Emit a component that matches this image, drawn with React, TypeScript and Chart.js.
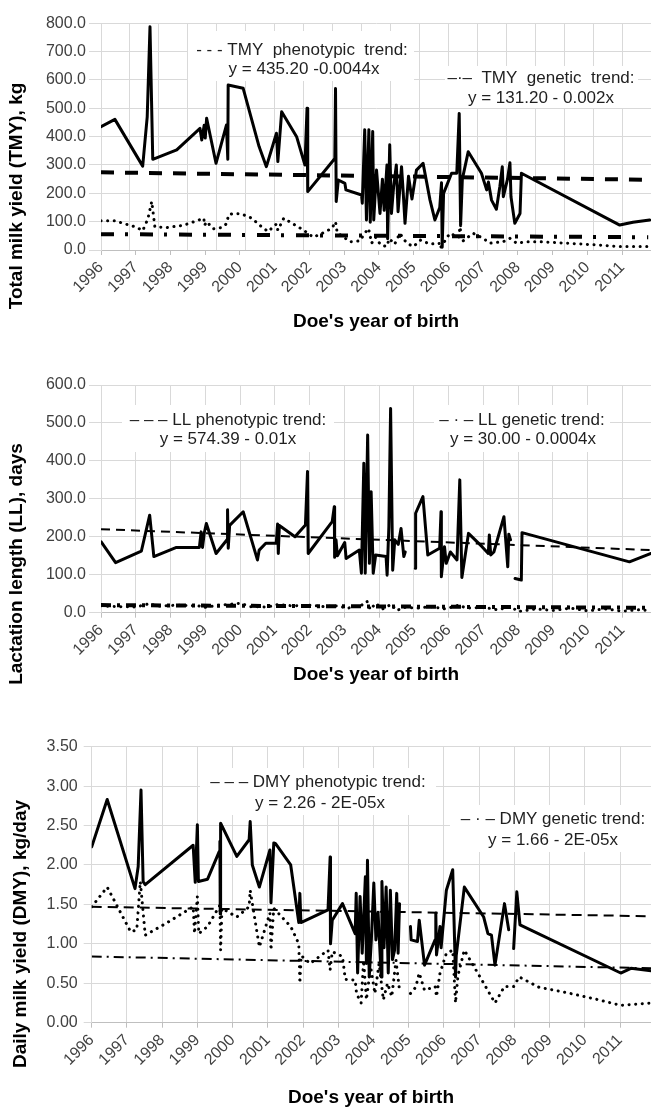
import React, { useEffect, useRef } from "react";
import { Chart, registerables } from "chart.js";
Chart.register(...registerables);

const FONT = '"Liberation Sans", Arial, Helvetica, sans-serif';
const GRID = "#d9d9d9";
const AXIS = "#bfbfbf";
const TICK_TXT = "#404040";

const YEAR_TICKS = [1996, 1997, 1998, 1999, 2000, 2001, 2002, 2003, 2004, 2005, 2006, 2007, 2008, 2009, 2010, 2011];

// ---------- Panel 1: Total milk yield (TMY) ----------
const TMY_Y_TICKS = [0, 100, 200, 300, 400, 500, 600, 700, 800];
const TMY_PHEN_X = [1996.0, 1996.4, 1997.2, 1997.33, 1997.41, 1997.49, 1998.18, 1998.85, 1998.9, 1998.97, 1999.0, 1999.04, 1999.31, 1999.61, 1999.65, 1999.66, 2000.09, 2000.55, 2000.76, 2001.05, 2001.09, 2001.2, 2001.63, 2001.87, 2001.93, 2001.95, 2002.73, 2002.75, 2002.77, 2002.83, 2003.02, 2003.05, 2003.5, 2003.52, 2003.59, 2003.64, 2003.71, 2003.75, 2003.82, 2003.85, 2003.93, 2004.03, 2004.1, 2004.15, 2004.23, 2004.25, 2004.31, 2004.36, 2004.42, 2004.5, 2004.55, 2004.65, 2004.7, 2004.75, 2004.85, 2004.95, 2005.08, 2005.27, 2005.47, 2005.61, 2005.75, 2005.8, 2005.82, 2005.86, 2006.09, 2006.24, 2006.31, 2006.35, 2006.4, 2006.57, 2006.95, 2007.1, 2007.15, 2007.24, 2007.38, 2007.48, 2007.55, 2007.58, 2007.7, 2007.77, 2007.8, 2007.91, 2008.06, 2008.1, 2010.93, 2011.31, 2011.79];
const TMY_PHEN_Y = [435, 461, 296, 470, 788, 320, 353, 429, 388, 440, 395, 465, 306, 441, 320, 582, 571, 365, 294, 412, 312, 488, 400, 300, 500, 206, 323, 570, 171, 247, 235, 212, 194, 165, 424, 106, 424, 98, 418, 106, 282, 129, 250, 140, 300, 40, 371, 129, 220, 300, 135, 294, 200, 94, 260, 180, 282, 306, 176, 106, 150, 237, 10, 200, 271, 271, 482, 86, 250, 347, 271, 212, 240, 176, 144, 224, 294, 188, 250, 308, 188, 94, 129, 271, 88, 98, 106];
const TMY_GEN_X = [1996.0, 1996.4, 1996.64, 1997.03, 1997.2, 1997.35, 1997.46, 1997.55, 1997.87, 1998.37, 1998.75, 1998.96, 1998.98, 1999.04, 1999.23, 1999.5, 1999.62, 1999.67, 1999.81, 2000.05, 2000.34, 2000.62, 2000.81, 2001.05, 2001.09, 2001.26, 2001.53, 2001.82, 2001.94, 2002.11, 2002.4, 2002.65, 2002.75, 2002.8, 2002.97, 2003.16, 2003.45, 2003.59, 2003.7, 2003.79, 2003.9, 2004.05, 2004.22, 2004.3, 2004.45, 2004.6, 2004.8, 2004.99, 2005.2, 2005.47, 2005.73, 2005.76, 2006.04, 2006.3, 2006.33, 2006.4, 2006.71, 2007.0, 2007.19, 2007.57, 2007.77, 2007.96, 2008.25, 2008.63, 2009.4, 2010.26, 2010.93, 2011.79];
const TMY_GEN_Y = [103, 103, 94, 80, 68, 110, 171, 82, 79, 87, 103, 112, 87, 100, 75, 80, 94, 124, 129, 127, 112, 82, 65, 92, 70, 112, 92, 71, 60, 45, 61, 77, 100, 60, 47, 29, 32, 59, 76, 24, 45, 18, 12, 40, 20, 59, 24, 12, 35, 21, 24, 6, 59, 45, 82, 30, 59, 41, 24, 29, 41, 24, 29, 29, 24, 18, 12, 12];
const TMY_TREND_X = [1996.0, 2011.75];
const TMY_PHEN_TREND = [274, 248];
const TMY_GEN_TREND = [56, 45];

// ---------- Panel 2: Lactation length (LL) ----------
const LL_Y_TICKS = [0, 100, 200, 300, 400, 500, 600];
const LL_PHEN_X = [1996.0, 1996.42, 1997.16, 1997.4, 1997.52, 1998.17, 1998.83, 1998.88, 1998.92, 1998.97, 1999.03, 1999.31, 1999.63, 1999.64, 1999.66, 1999.7, 2000.09, 2000.5, 2000.55, 2000.74, 2001.04, 2001.08, 2001.1, 2001.13, 2001.58, 2001.88, 2001.94, 2001.96, 2002.65, 2002.71, 2002.72, 2002.76, 2002.8, 2003.01, 2003.05, 2003.43, 2003.49, 2003.56, 2003.6, 2003.67, 2003.72, 2003.77, 2003.83, 2003.9, 2004.2, 2004.23, 2004.28, 2004.33, 2004.39, 2004.45, 2004.55, 2004.63, 2004.71, 2004.75, 2004.9, 2005.04, 2005.05, 2005.26, 2005.4, 2005.74, 2005.78, 2005.79, 2005.88, 2005.93, 2006.05, 2006.24, 2006.32, 2006.38, 2006.57, 2006.96, 2007.14, 2007.17, 2007.21, 2007.3, 2007.59, 2007.7, 2007.73, 2007.78, 2007.85, 2007.91, 2008.09, 2008.11, 2011.2, 2011.82];
const LL_PHEN_Y = [187, 132, 162, 257, 148, 172, 172, 213, 172, 210, 235, 156, 193, 271, 170, 230, 266, 139, 165, 183, 183, 234, 156, 230, 200, 231, 372, 156, 240, 279, 146, 192, 150, 185, 143, 165, 104, 394, 104, 468, 130, 319, 104, 152, 148, 99, 227, 538, 112, 192, 180, 222, 148, 160, null, 117, 262, 306, 152, 170, 266, 95, 174, 130, 160, 139, 350, 93, 209, 174, 156, 205, 152, 160, 253, 121, 207, 192, null, 90, 86, 211, 134, 156];
const LL_GEN_X = [1996.0, 1996.5, 1997.0, 1997.4, 1997.6, 1998.2, 1998.8, 1999.0, 1999.3, 1999.7, 2000.0, 2000.3, 2000.8, 2001.1, 2001.5, 2002.0, 2002.4, 2002.8, 2003.1, 2003.5, 2003.65, 2003.75, 2003.9, 2004.1, 2004.35, 2004.5, 2004.75, 2005.1, 2005.5, 2005.9, 2006.3, 2006.5, 2007.0, 2007.4, 2007.8, 2008.0, 2008.5, 2009.0, 2009.5, 2010.0, 2010.5, 2011.0, 2011.5, 2011.82];
const LL_GEN_Y = [18, 16, 15, 24, 17, 20, 18, 14, 19, 22, 25, 16, 15, 22, 18, 20, 16, 18, 12, 20, 30, 8, 25, 10, 22, 6, 14, 12, 16, 10, 20, 12, 14, 8, 15, 3, 10, 6, 12, 5, 10, 4, 8, 5];
const LL_TREND_X = [1996.0, 2011.82];
const LL_PHEN_TREND = [220, 165];
const LL_GEN_TREND = [20, 13];

// ---------- Panel 3: Daily milk yield (DMY) ----------
const DMY_Y_TICKS = [0, 0.5, 1.0, 1.5, 2.0, 2.5, 3.0, 3.5];
const DMY_PHEN_X = [1996.0, 1996.44, 1997.23, 1997.32, 1997.4, 1997.46, 1997.52, 1998.88, 1998.94, 1999.0, 1999.03, 1999.29, 1999.62, 1999.64, 1999.65, 1999.66, 2000.12, 2000.47, 2000.5, 2000.56, 2000.76, 2001.06, 2001.09, 2001.17, 2001.22, 2001.65, 2001.88, 2001.91, 2001.94, 2002.71, 2002.77, 2002.78, 2002.83, 2003.12, 2003.48, 2003.51, 2003.55, 2003.62, 2003.68, 2003.77, 2003.8, 2003.83, 2003.88, 2003.94, 2004.01, 2004.07, 2004.13, 2004.22, 2004.24, 2004.3, 2004.36, 2004.42, 2004.48, 2004.54, 2004.6, 2004.66, 2004.7, 2004.74, 2004.9, 2005.05, 2005.07, 2005.25, 2005.3, 2005.45, 2005.75, 2005.77, 2005.79, 2005.89, 2005.92, 2006.07, 2006.25, 2006.33, 2006.35, 2006.58, 2007.13, 2007.25, 2007.35, 2007.45, 2007.72, 2007.84, 2007.9, 2007.98, 2008.07, 2008.16, 2011.02, 2011.31, 2011.88];
const DMY_PHEN_Y = [2.23, 2.83, 1.70, 1.98, 2.95, 1.79, 1.75, 2.25, 1.78, 2.51, 1.79, 1.82, 2.17, 2.30, 1.38, 2.53, 2.11, 2.32, 2.55, 2.00, 1.72, 2.19, 1.52, 2.28, 2.27, 2.00, 1.27, 1.64, 1.27, 1.43, 2.10, 1.00, 1.30, 1.51, 1.13, 1.64, 0.63, 1.60, 0.88, 1.85, 0.75, 2.06, 0.58, 1.05, 1.77, 1.05, 1.40, 0.58, 1.79, 0.95, 1.72, 0.63, 1.68, 0.80, 0.92, 1.64, 0.88, 1.51, null, 1.22, 1.05, 1.03, 1.30, 0.73, 1.05, 1.39, 0.86, 1.22, 0.95, 1.68, 1.94, 0.58, 0.85, 1.72, 1.34, 1.13, 1.11, 0.73, 1.51, 1.18, null, 0.94, 1.66, 1.24, 0.63, 0.69, 0.66];
const DMY_GEN_X = [1996.0, 1996.44, 1997.11, 1997.28, 1997.38, 1997.52, 1998.11, 1998.88, 1998.92, 1999.0, 1999.04, 1999.29, 1999.64, 1999.66, 1999.7, 2000.12, 2000.47, 2000.5, 2000.76, 2001.06, 2001.09, 2001.17, 2001.65, 2001.88, 2001.91, 2001.95, 2002.2, 2002.71, 2002.77, 2002.83, 2003.12, 2003.2, 2003.48, 2003.52, 2003.65, 2003.72, 2003.8, 2003.92, 2004.04, 2004.16, 2004.28, 2004.4, 2004.52, 2004.64, 2004.74, 2004.9, 2005.05, 2005.2, 2005.3, 2005.45, 2005.75, 2005.79, 2005.89, 2006.07, 2006.25, 2006.33, 2006.4, 2006.58, 2007.13, 2007.45, 2007.72, 2007.98, 2008.14, 2008.7, 2009.5, 2010.3, 2011.02, 2011.88];
const DMY_GEN_Y = [1.47, 1.72, 1.15, 1.18, 1.79, 1.11, 1.26, 1.47, 1.13, 1.60, 1.13, 1.22, 1.49, 0.92, 1.45, 1.34, 1.47, 1.68, 0.96, 1.39, 0.92, 1.45, 1.22, 1.00, 0.50, 0.85, 0.75, 0.92, 0.67, 0.90, 0.84, 0.55, 0.54, 0.37, 0.25, 0.79, 0.29, 0.71, 0.37, 0.75, 0.29, 0.50, 0.33, 0.79, 0.41, null, 0.37, 0.45, 0.63, 0.41, 0.46, 0.33, 0.63, 0.88, 0.92, 0.25, 0.60, 0.92, 0.50, 0.25, 0.46, 0.46, 0.58, 0.45, 0.38, 0.30, 0.22, 0.25];
const DMY_TREND_X = [1996.0, 2011.88];
const DMY_PHEN_TREND = [1.47, 1.35];
const DMY_GEN_TREND = [0.84, 0.69];

// ---------- helpers ----------
const xy = (xs: number[], ys: (number | null)[]) => xs.map((x, i) => ({ x, y: ys[i] }));
const near = (a: number, b: number) => Math.abs(a - b) < 1e-6;
const isYear = (v: number) => YEAR_TICKS.some((y) => near(y, v));

const solid = (data: any) => ({ data, borderColor: "#000", backgroundColor: "#000", borderWidth: 3, pointRadius: 0, fill: false, spanGaps: false, borderJoinStyle: "round", borderCapStyle: "round" });
const dotted = (data: any) => ({ data, borderColor: "#000", backgroundColor: "#000", borderWidth: 3, borderDash: [0.1, 6.5], borderCapStyle: "round", pointRadius: 0, fill: false, spanGaps: false });
const dashed = (data: any, w: number, dash: number[]) => ({ data, borderColor: "#000", backgroundColor: "#000", borderWidth: w, borderDash: dash, borderCapStyle: "butt", pointRadius: 0, fill: false });

type Panel = {
  top: number; height: number; yw: number; areaTop: number; areaBottom: number;
  xMax: number; yMax: number; yTicks: number[]; dec: number; gridStep: number | null;
  yTickLen: number; yTickPad: number;
  datasets: any[]; notes: { t: string; x: number; y: number }[]; boxes: number[][];
  yTitle: string; yTitlePos: number[]; xTitle: string; xTitlePos: number[];
};

const PANELS: Panel[] = [
  {
    top: 0, height: 340, yw: 101, areaTop: 23.3, areaBottom: 250,
    xMax: 2011.83, yMax: 800, yTicks: TMY_Y_TICKS, dec: 1, gridStep: 5 / 6, yTickLen: 12, yTickPad: 3,
    datasets: [
      solid(xy(TMY_PHEN_X, TMY_PHEN_Y)),
      dotted(xy(TMY_GEN_X, TMY_GEN_Y)),
      dashed(xy(TMY_TREND_X, TMY_PHEN_TREND), 4, [13, 11]),
      dashed(xy(TMY_TREND_X, TMY_GEN_TREND), 4, [13, 11, 3, 12]),
    ],
    notes: [
      { t: "- - - TMY  phenotypic  trend:", x: 302, y: 50 },
      { t: "y = 435.20 -0.0044x", x: 304, y: 69 },
      { t: "–·–  TMY  genetic  trend:", x: 541, y: 78 },
      { t: "y = 131.20 - 0.002x", x: 541, y: 98 },
    ],
    boxes: [[188, 31, 226, 50], [445, 66, 193, 42]],
    yTitle: "Total milk yield (TMY), kg", yTitlePos: [17, 196],
    xTitle: "Doe's year of birth", xTitlePos: [376, 322],
  },
  {
    top: 340, height: 360, yw: 101, areaTop: 45, areaBottom: 272.7,
    xMax: 2011.82, yMax: 600, yTicks: LL_Y_TICKS, dec: 1, gridStep: null, yTickLen: 12, yTickPad: 3,
    datasets: [
      solid(xy(LL_PHEN_X, LL_PHEN_Y)),
      dotted(xy(LL_GEN_X, LL_GEN_Y)),
      dashed(xy(LL_TREND_X, LL_PHEN_TREND), 2, [9, 6]),
      dashed(xy(LL_TREND_X, LL_GEN_TREND), 4, [10, 6, 3, 6]),
    ],
    notes: [
      { t: "– – – LL phenotypic trend:", x: 228, y: 80 },
      { t: "y = 574.39 - 0.01x", x: 228, y: 99 },
      { t: "– · – LL genetic trend:", x: 522, y: 80 },
      { t: "y = 30.00 - 0.0004x", x: 523, y: 99 },
    ],
    boxes: [[122, 65, 212, 47], [434, 65, 176, 47]],
    yTitle: "Lactation length (LL), days", yTitlePos: [17, 224],
    xTitle: "Doe's year of birth", xTitlePos: [376, 335],
  },
  {
    top: 700, height: 408, yw: 91.7, areaTop: 46.7, areaBottom: 322.7,
    xMax: 2011.88, yMax: 3.5, yTicks: DMY_Y_TICKS, dec: 2, gridStep: null, yTickLen: 8, yTickPad: 6,
    datasets: [
      solid(xy(DMY_PHEN_X, DMY_PHEN_Y)),
      dotted(xy(DMY_GEN_X, DMY_GEN_Y)),
      dashed(xy(DMY_TREND_X, DMY_PHEN_TREND), 2, [10, 6]),
      dashed(xy(DMY_TREND_X, DMY_GEN_TREND), 2, [10, 5, 2, 5]),
    ],
    notes: [
      { t: "– – – DMY phenotypic trend:", x: 318, y: 82 },
      { t: "y = 2.26 - 2E-05x", x: 320, y: 103 },
      { t: "– · – DMY genetic trend:", x: 553, y: 119 },
      { t: "y = 1.66 - 2E-05x", x: 553, y: 140 },
    ],
    boxes: [[200, 68, 236, 47], [450, 105, 201, 47]],
    yTitle: "Daily milk yield (DMY), kg/day", yTitlePos: [21, 234],
    xTitle: "Doe's year of birth", xTitlePos: [371, 398],
  },
];

function overlayPlugin(p: Panel) {
  return {
    id: "overlay",
    beforeDatasetsDraw(chart: any) {
      const ctx = chart.ctx;
      ctx.save();
      ctx.fillStyle = "#ffffff";
      p.boxes.forEach((b) => ctx.fillRect(b[0], b[1], b[2], b[3]));
      ctx.fillStyle = "#1f1f1f";
      ctx.font = `17px ${FONT}`;
      ctx.textAlign = "center";
      ctx.textBaseline = "middle";
      p.notes.forEach((n) => ctx.fillText(n.t, n.x, n.y));
      ctx.restore();
    },
    afterDraw(chart: any) {
      const ctx = chart.ctx;
      ctx.save();
      ctx.fillStyle = "#000";
      ctx.font = `bold 19px ${FONT}`;
      ctx.textAlign = "center";
      ctx.textBaseline = "middle";
      ctx.fillText(p.xTitle, p.xTitlePos[0], p.xTitlePos[1]);
      ctx.translate(p.yTitlePos[0], p.yTitlePos[1]);
      ctx.rotate(-Math.PI / 2);
      ctx.fillText(p.yTitle, 0, 0);
      ctx.restore();
    },
  };
}

function buildConfig(p: Panel): any {
  const gridPos: number[] = [];
  if (p.gridStep) {
    for (let k = 0; 1996 + k * p.gridStep <= p.xMax + 1e-6; k++) gridPos.push(1996 + k * p.gridStep);
  }
  const onGrid = (v: number) => (p.gridStep ? gridPos.some((g) => near(g, v)) : true);
  const tickVals: number[] = [...YEAR_TICKS];
  gridPos.forEach((g) => { if (!tickVals.some((t) => near(t, g))) tickVals.push(g); });
  tickVals.sort((a, b) => a - b);

  return {
    type: "line",
    data: { datasets: p.datasets },
    plugins: [overlayPlugin(p)],
    options: {
      responsive: false,
      maintainAspectRatio: false,
      animation: false,
      devicePixelRatio: 1,
      layout: { padding: { top: p.areaTop, left: 0, right: 0, bottom: 0 } },
      plugins: { legend: { display: false }, tooltip: { enabled: false }, title: { display: false } },
      elements: { point: { radius: 0 }, line: { tension: 0 } },
      scales: {
        x: {
          type: "linear",
          min: 1996,
          max: p.xMax,
          afterBuildTicks: (s: any) => { s.ticks = tickVals.map((v) => ({ value: v })); },
          afterFit: (s: any) => { s.height = p.height - p.areaBottom; s.paddingLeft = 0; s.paddingRight = 0; },
          grid: {
            color: (c: any) => (c.tick && onGrid(c.tick.value) ? GRID : "rgba(0,0,0,0)"),
            tickColor: (c: any) => (c.tick && isYear(c.tick.value) ? AXIS : "rgba(0,0,0,0)"),
            tickLength: 5,
            lineWidth: 1,
          },
          border: { color: AXIS, width: 1 },
          ticks: {
            autoSkip: false,
            minRotation: 45,
            maxRotation: 45,
            padding: 3,
            color: TICK_TXT,
            font: { family: FONT, size: 16 },
            callback: (v: any) => (isYear(Number(v)) ? String(Math.round(Number(v))) : ""),
          },
        },
        y: {
          type: "linear",
          min: 0,
          max: p.yMax,
          afterBuildTicks: (s: any) => { s.ticks = p.yTicks.map((v) => ({ value: v })); },
          afterFit: (s: any) => { s.width = p.yw; s.paddingTop = 0; s.paddingBottom = 0; },
          grid: { color: GRID, tickColor: GRID, tickLength: p.yTickLen, lineWidth: 1 },
          border: { color: GRID, width: 1 },
          ticks: {
            padding: p.yTickPad,
            color: TICK_TXT,
            font: { family: FONT, size: 16 },
            callback: (v: any) => Number(v).toFixed(p.dec),
          },
        },
      },
    },
  };
}

function PanelChart({ p }: { p: Panel }) {
  const ref = useRef<HTMLCanvasElement>(null);
  useEffect(() => {
    const chart = new Chart(ref.current as HTMLCanvasElement, buildConfig(p));
    return () => chart.destroy();
  }, [p]);
  return (
    <canvas
      ref={ref}
      width={651}
      height={p.height}
      style={{ position: "absolute", left: 0, top: p.top, width: 651, height: p.height, display: "block" }}
    />
  );
}

export default function App() {
  useEffect(() => {
    document.body.style.margin = "0";
    document.body.style.background = "#fff";
  }, []);
  return (
    <div style={{ position: "absolute", left: 0, top: 0, width: 651, height: 1108, background: "#fff", overflow: "hidden" }}>
      {PANELS.map((p, i) => (
        <PanelChart key={i} p={p} />
      ))}
    </div>
  );
}
